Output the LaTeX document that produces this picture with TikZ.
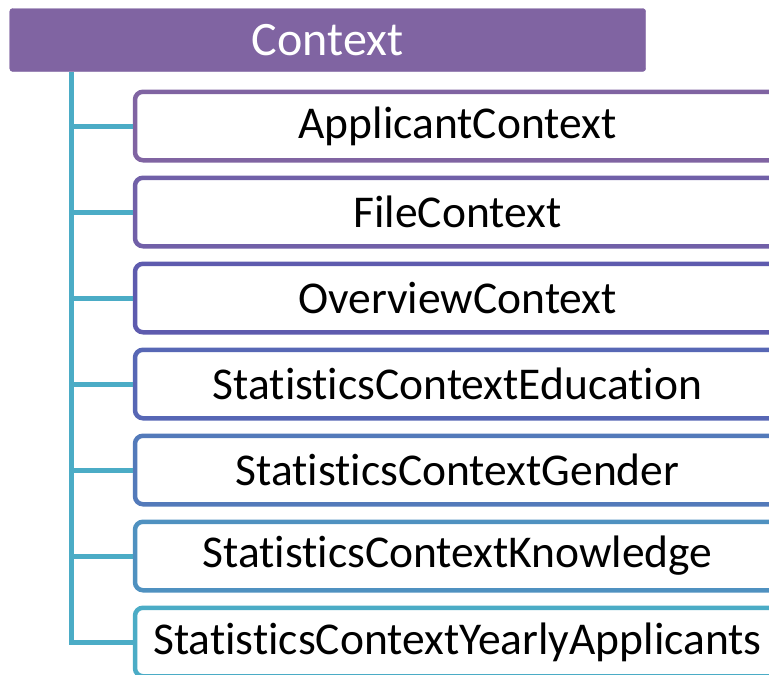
\documentclass[tikz,border=0pt]{standalone}
\usepackage{fontspec}
\setmainfont[Ligatures=NoCommon]{Carlito}
\usetikzlibrary{positioning}
\definecolor{ctxpurple}{RGB}{128,100,162}
\definecolor{lvltwo}{RGB}{113,96,168}
\definecolor{lvlthree}{RGB}{94,91,174}
\definecolor{lvlfour}{RGB}{87,103,181}
\definecolor{lvlfive}{RGB}{83,122,186}
\definecolor{lvlsix}{RGB}{79,145,192}
\definecolor{ctxaqua}{RGB}{75,172,198}
\newcommand{\headfont}{\fontsize{48}{52}\selectfont}
\newcommand{\ctxfont}{\fontsize{45.5}{50}\selectfont}
\tikzset{
  head/.style={rectangle, rounded corners=3pt, fill=ctxpurple, draw=ctxpurple,
               text=white, minimum width=636pt, minimum height=63pt, inner sep=0pt,
               font=\headfont},
  item/.style={rectangle, rounded corners=8pt, draw, fill=white, line width=4.5pt,
               minimum width=645pt, minimum height=68.5pt, inner sep=0pt,
               font=\ctxfont},
  conn/.style={draw=ctxaqua, line width=5pt},
}

\begin{document}
\begin{tikzpicture}[x=1pt, y=-1pt]
  \clip (0,0) rectangle (769,675);
  \node[head] (ctx) at (327.7,40) {Context};
  \node[item, draw=ctxpurple] (app) at (457.5,126) {ApplicantContext};
  \node[item, draw=lvltwo] (file) at (457.5,212) {FileContext};
  \node[item, draw=lvlthree] (over) at (457.5,298) {OverviewContext};
  \node[item, draw=lvlfour] (edu) at (457.5,384) {StatisticsContextEducation};
  \node[item, draw=lvlfive] (gen) at (457.5,470) {StatisticsContextGender};
  \node[item, draw=lvlsix] (know) at (457.5,556) {StatisticsContextKnowledge};
  \node[item, draw=ctxaqua] (year) at (457.5,642) {StatisticsContextYearlyApplicants};
  % spine down the left side, one branch per child
  \coordinate (spine) at (71,72);
  \draw[conn] (spine) |- (year.west);
  \draw[conn] (app.west -| spine) -- (app.west);
  \draw[conn] (file.west -| spine) -- (file.west);
  \draw[conn] (over.west -| spine) -- (over.west);
  \draw[conn] (edu.west -| spine) -- (edu.west);
  \draw[conn] (gen.west -| spine) -- (gen.west);
  \draw[conn] (know.west -| spine) -- (know.west);
\end{tikzpicture}
\end{document}
